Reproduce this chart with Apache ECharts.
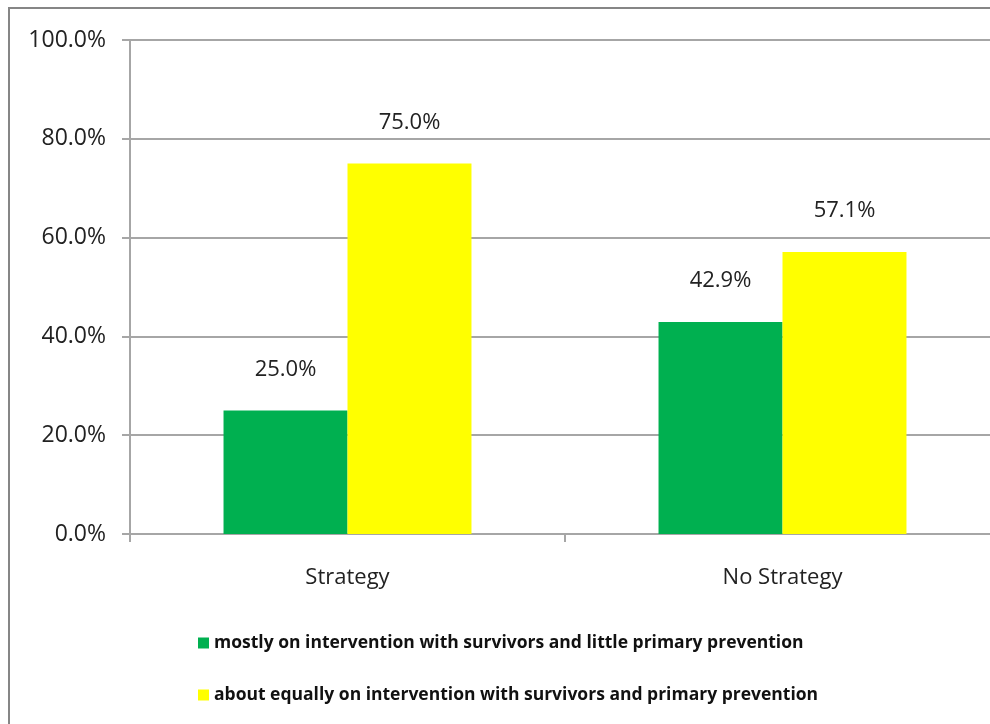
<!DOCTYPE html>
<html>
<head>
<meta charset="utf-8">
<script src="https://cdn.jsdelivr.net/npm/echarts@6/dist/echarts.min.js"></script>
<style>
  html, body { margin: 0; padding: 0; background: #fff; overflow: hidden; width: 990px; height: 724px; }
  #frame { position: absolute; left: 8px; top: 7px; width: 1100px; height: 800px; border: 2px solid #868686; box-sizing: border-box; }
  #chart { position: absolute; left: 0; top: 0; width: 1010px; height: 724px; }
</style>
</head>
<body>
<div id="frame"></div>
<div id="chart"></div>
<script>
// Share of effort by category
const categories = ['Strategy', 'No Strategy'];
const seriesNames = [
  'mostly on intervention with survivors and little primary prevention',
  'about equally on intervention with survivors and primary prevention'
];
const mostlyIntervention = [25.0, 42.9];
const aboutEqually = [75.0, 57.1];
const yTicks = [0, 20, 40, 60, 80, 100];

const FONT = '"Open Sans", sans-serif';
const chart = echarts.init(document.getElementById('chart'));

const labelCfg = {
  show: true,
  position: 'top',
  distance: 30,
  color: '#222',
  fontFamily: FONT,
  fontSize: 22,
  formatter: p => p.value.toFixed(1) + '%'
};

chart.setOption({
  animation: false,
  backgroundColor: 'transparent',
  grid: { left: 130, right: 10, top: 40, bottom: 190 },
  legend: {
    orient: 'vertical',
    left: 193,
    top: 629,
    itemWidth: 11,
    itemHeight: 11,
    itemGap: 34,
    icon: 'rect',
    textStyle: { fontFamily: FONT, fontSize: 17.5, fontWeight: 'bold', color: '#111' },
    data: seriesNames
  },
  xAxis: {
    type: 'category',
    data: categories,
    axisLine: { lineStyle: { color: '#a6a6a6', width: 2 } },
    axisTick: { show: true, length: 8, alignWithLabel: false, lineStyle: { color: '#a6a6a6', width: 2 } },
    axisLabel: { color: '#222', fontFamily: FONT, fontSize: 22, margin: 33 }
  },
  yAxis: {
    type: 'value',
    min: yTicks[0],
    max: yTicks[yTicks.length - 1],
    interval: yTicks[1] - yTicks[0],
    axisLine: { show: true, lineStyle: { color: '#a6a6a6', width: 2 } },
    axisTick: { show: true, length: 8, lineStyle: { color: '#a6a6a6', width: 2 } },
    splitLine: { lineStyle: { color: '#a6a6a6', width: 2 } },
    axisLabel: { color: '#222', fontFamily: FONT, fontSize: 23, margin: 24, formatter: v => v.toFixed(1) + '%' }
  },
  series: [
    {
      name: seriesNames[0],
      type: 'bar',
      data: mostlyIntervention,
      barGap: '0%',
      barCategoryGap: '43%',
      itemStyle: { color: '#00B050' },
      label: labelCfg
    },
    {
      name: seriesNames[1],
      type: 'bar',
      data: aboutEqually,
      barGap: '0%',
      barCategoryGap: '43%',
      itemStyle: { color: '#FFFF00' },
      label: labelCfg
    }
  ]
});
</script>
</body>
</html>
